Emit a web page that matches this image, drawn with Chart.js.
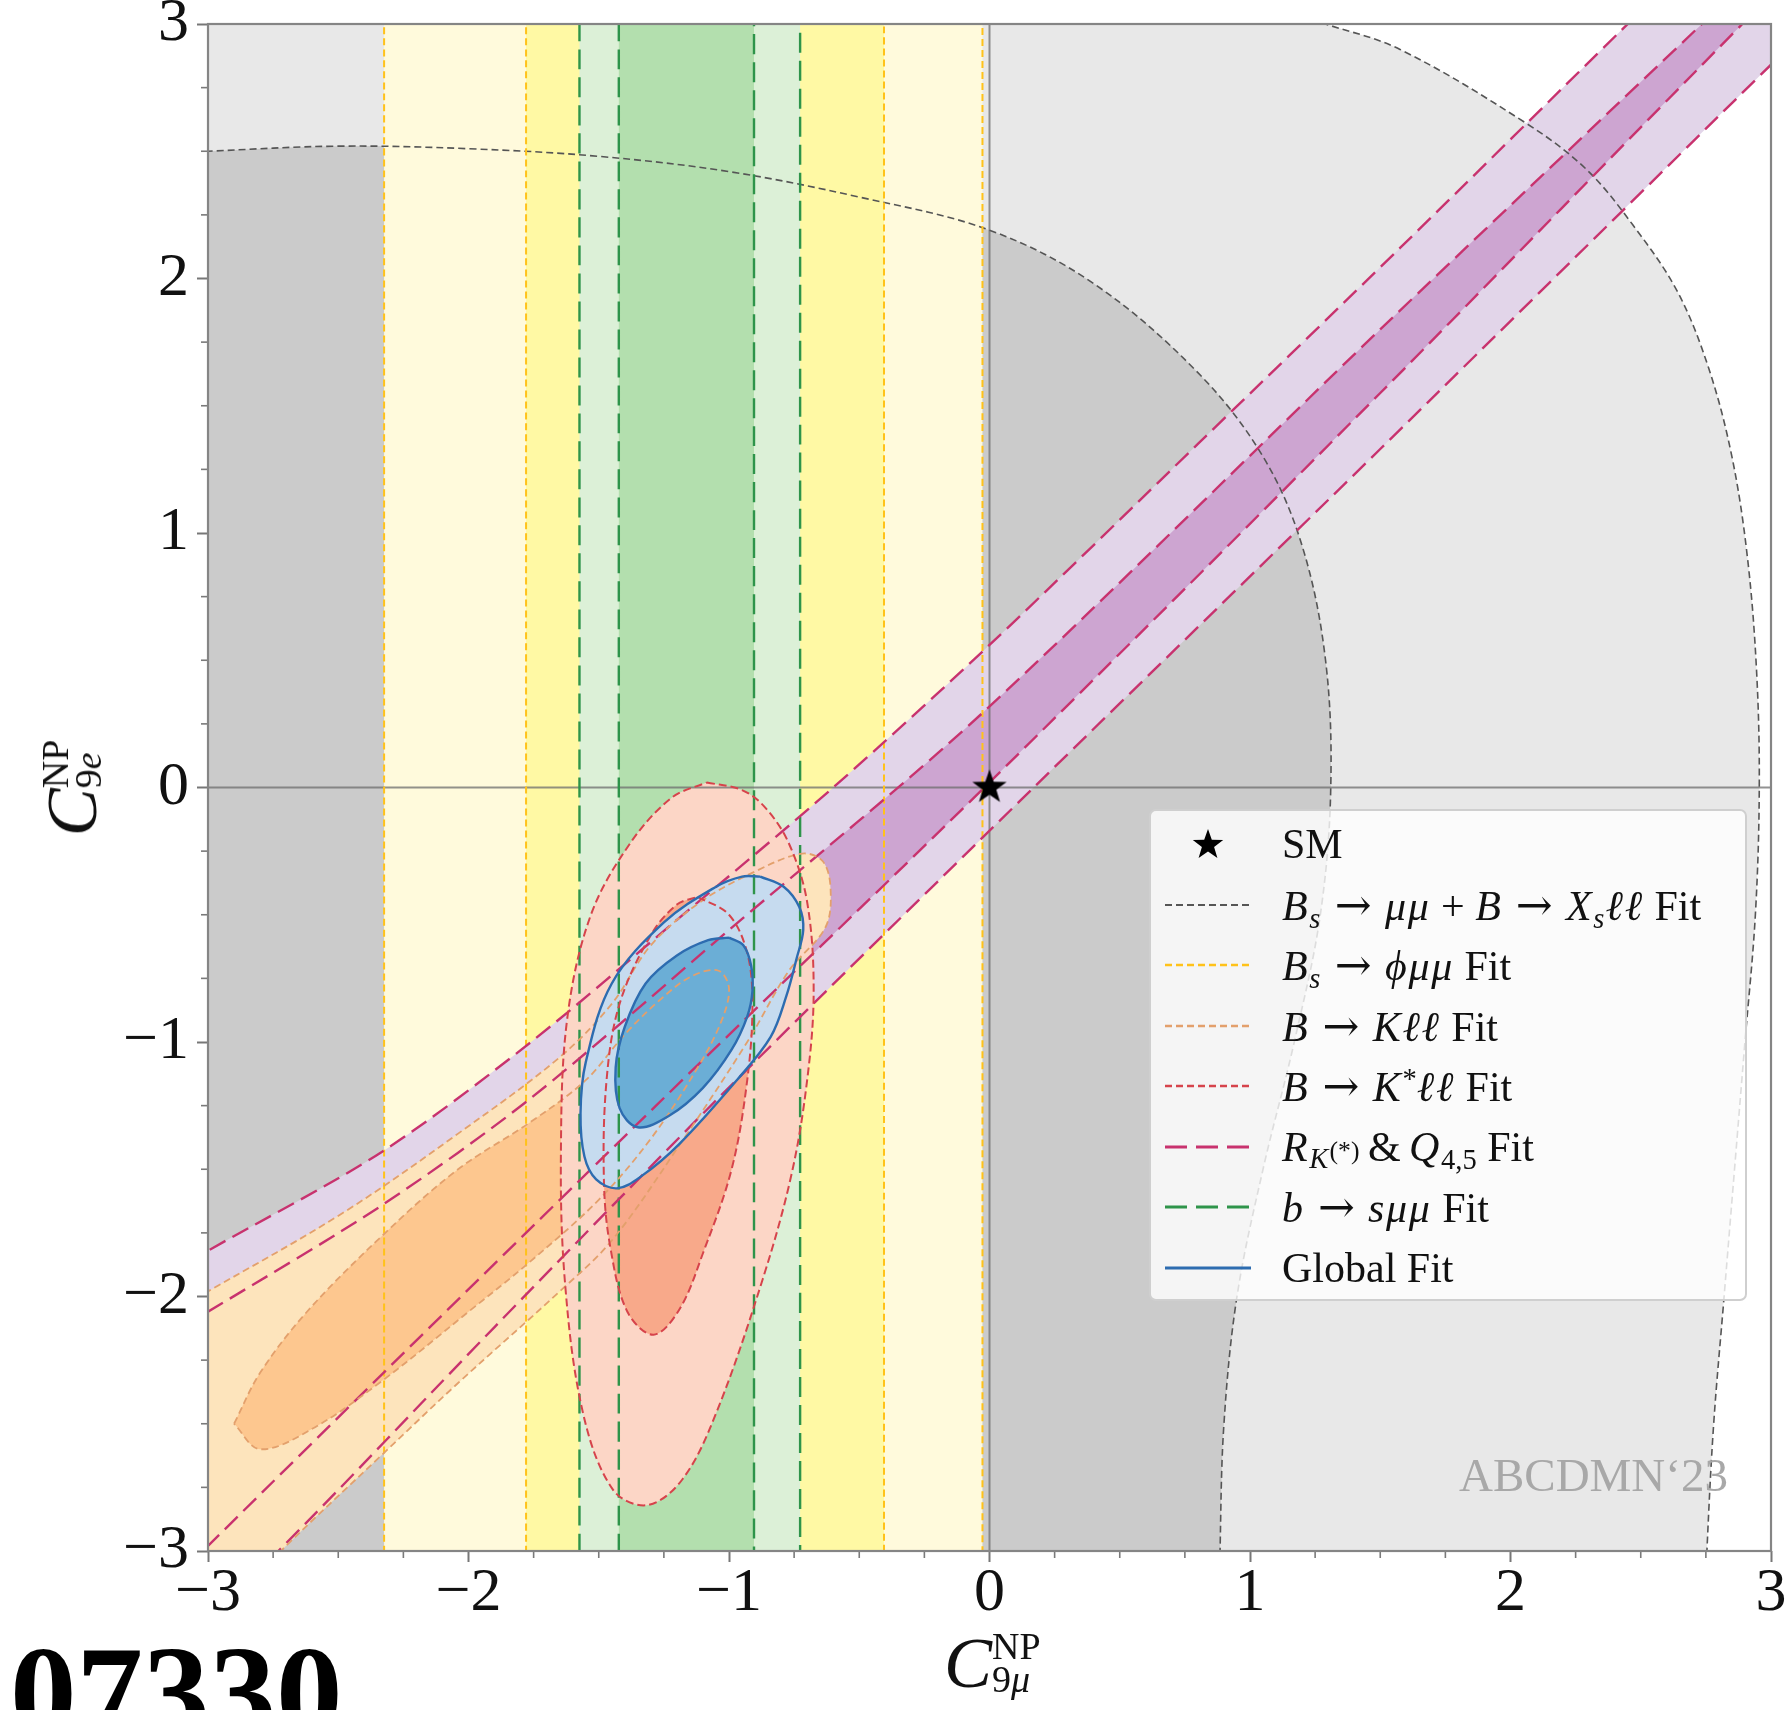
<!DOCTYPE html>
<html>
<head>
<meta charset="utf-8">
<script src="https://cdn.jsdelivr.net/npm/chart.js@4.4.1/dist/chart.umd.min.js"></script>
<style>
html,body{margin:0;padding:0;background:#fff;width:1792px;height:1710px;overflow:hidden;}
#wrap{position:relative;width:1792px;height:1710px;overflow:hidden;font-family:"Liberation Serif","DejaVu Serif",serif;}
#c{position:absolute;left:0;top:0;}
.ttl{position:absolute;display:flex;align-items:center;color:#111;white-space:nowrap;}
.ttl .cal{font-style:italic;font-size:72px;line-height:70px;}
.ttl .ss{display:flex;flex-direction:column;font-size:38px;line-height:33px;margin-left:0px;}
#legend{position:absolute;left:1149px;top:809px;width:598px;height:492px;border:2px solid #cfcfcf;border-radius:7px;background:rgba(255,255,255,0.8);box-sizing:border-box;}
.lrow{position:absolute;left:0;height:60px;display:flex;align-items:center;font-size:42px;color:#111;white-space:nowrap;}
.lrow svg{position:absolute;left:14px;top:25px;}
.lrow .txt{position:absolute;left:131px;top:0;height:60px;line-height:60px;}
.lrow i{letter-spacing:0.04em;}
.lrow sub{font-size:0.68em;vertical-align:-0.28em;line-height:0;}
.lrow sup{font-size:0.68em;vertical-align:0.45em;line-height:0;}
.lrow sub sup{font-size:0.9em;vertical-align:0.35em;}
.ar{font-family:"DejaVu Serif",serif;font-size:1.05em;margin:0 0.3em;}
.op{margin:0 0.25em;}
#wm{position:absolute;left:1459px;top:1448px;font-size:47px;color:#a8a8a8;white-space:nowrap;}
#arx{position:absolute;left:10px;top:1627px;font-size:133px;line-height:133px;font-weight:bold;color:#000;white-space:nowrap;}
</style>
</head>
<body>
<div id="wrap">
<canvas id="c" width="1792" height="1710"></canvas>

<div class="ttl" id="xtitle" style="left:944px;top:1628px;">
  <span class="cal">C</span><span class="ss"><span>NP</span><span>9<i>μ</i></span></span>
</div>
<div class="ttl" id="ytitle" style="left:72px;top:788px;transform:translate(-50%,-50%) rotate(-90deg);">
  <span class="cal">C</span><span class="ss"><span>NP</span><span>9<i>e</i></span></span>
</div>

<div id="legend"></div>
<div id="wm">ABCDMN‘23</div>
<div id="arx">07330</div>
</div>

<script>
// ---------------- data ----------------
const xTickValues = [-3, -2, -1, 0, 1, 2, 3];
const yTickValues = [-3, -2, -1, 0, 1, 2, 3];
const smPoint = [0, 0];

// Bs -> mu mu + B -> Xs ll fit (grey), 2 sigma and 1 sigma contours
const bsXs2Sigma = [[-3.6,3.6],[0.3,3.6],[0.9,3.13],[1.29,3.0],[1.576,2.9],[2.06,2.61],[2.29,2.43],[2.47,2.21],[2.64,1.95],[2.76,1.65],[2.85,1.3],[2.91,0.9],[2.945,0.45],[2.955,0.0],[2.94,-0.5],[2.9,-1.0],[2.86,-1.5],[2.82,-2.0],[2.78,-2.5],[2.754,-3.0],[2.74,-3.4],[2.6,-3.6],[-3.6,-3.6]];
const bsXs1Sigma = [[-3.6,2.47],[-3.0,2.5],[-2.5,2.52],[-2.0,2.51],[-1.5,2.48],[-1.0,2.42],[-0.5,2.32],[0.0,2.19],[0.4,1.98],[0.8,1.63],[1.05,1.3],[1.2,0.95],[1.29,0.5],[1.31,0.0],[1.27,-0.5],[1.17,-1.0],[1.05,-1.5],[0.95,-2.0],[0.9,-2.5],[0.885,-3.0],[0.88,-3.4],[0.7,-3.6],[-3.6,-3.6]];

// Bs -> phi mu mu fit (yellow): band edges in C9mu
const bsPhi2Sigma = [-2.324, -0.027];
const bsPhi1Sigma = [-1.779, -0.405];

// b -> s mu mu fit (green): band edges in C9mu
const bsmumu2Sigma = [-1.574, -0.727];
const bsmumu1Sigma = [-1.423, -0.904];

// R_K(*) & Q4,5 fit (purple): band edges
const rk2Upper = [[-3.6,-2.17],[-3.0,-1.82],[-2.33,-1.43],[-1.76,-1.0],[-1.2,-0.52],[-0.6,0.0],[0.0,0.56],[0.8,1.35],[1.576,2.12],[2.43,2.98],[3.1,3.65],[3.6,4.15]];
const rk2Lower = [[-3.25,-3.5],[-2.73,-3.0],[-1.9,-2.12],[-1.05,-1.23],[-0.03,-0.2],[1.5,1.33],[3.0,2.84],[3.6,3.44]];
const rk1Upper = [[-3.6,-2.43],[-3.0,-2.06],[-2.33,-1.64],[-1.76,-1.22],[-1.0,-0.56],[-0.03,0.29],[1.5,1.8],[2.735,3.0],[3.3,3.55],[3.6,3.85]];
const rk1Lower = [[-3.55,-3.55],[-3.0,-2.98],[-1.28,-1.25],[0.0,0.02],[1.5,1.55],[2.89,3.0],[3.6,3.72]];

// B -> K ll fit (orange)
const bkll2Sigma = [[-3.6,-2.33],[-3.0,-1.98],[-2.48,-1.67],[-2.04,-1.36],[-1.65,-1.06],[-1.45,-0.85],[-1.3,-0.62],[-1.11,-0.45],[-0.9,-0.33],[-0.72,-0.26],[-0.64,-0.29],[-0.61,-0.40],[-0.63,-0.55],[-0.77,-0.72],[-0.93,-1.0],[-1.2,-1.42],[-1.45,-1.78],[-1.65,-1.98],[-2.04,-2.34],[-2.33,-2.62],[-2.72,-3.0],[-3.0,-3.3],[-3.2,-3.6],[-3.6,-3.6]];
const bkll1Sigma = [[-2.90,-2.50],[-2.80,-2.30],[-2.62,-2.06],[-2.33,-1.76],[-2.04,-1.50],[-1.77,-1.32],[-1.55,-1.15],[-1.40,-0.97],[-1.26,-0.83],[-1.14,-0.74],[-1.04,-0.72],[-1.0,-0.79],[-1.03,-0.92],[-1.12,-1.1],[-1.3,-1.38],[-1.5,-1.62],[-1.76,-1.86],[-2.0,-2.06],[-2.33,-2.33],[-2.6,-2.52],[-2.8,-2.6],[-2.90,-2.50]];

// B -> K* ll fit (red)
const bkstll2Sigma = [[-1.085,0.02],[-0.95,-0.01],[-0.86,-0.08],[-0.77,-0.22],[-0.70,-0.45],[-0.675,-0.8],[-0.70,-1.15],[-0.76,-1.52],[-0.87,-1.93],[-1.05,-2.46],[-1.18,-2.72],[-1.315,-2.82],[-1.445,-2.76],[-1.56,-2.46],[-1.63,-1.94],[-1.645,-1.4],[-1.62,-0.9],[-1.53,-0.5],[-1.38,-0.22],[-1.22,-0.04],[-1.085,0.02]];
const bkstll1Sigma = [[-1.12,-0.43],[-1.0,-0.50],[-0.93,-0.65],[-0.91,-0.85],[-0.93,-1.15],[-0.99,-1.5],[-1.10,-1.83],[-1.19,-2.05],[-1.29,-2.15],[-1.39,-2.06],[-1.455,-1.81],[-1.48,-1.55],[-1.47,-1.15],[-1.42,-0.85],[-1.3,-0.58],[-1.2,-0.46],[-1.12,-0.43]];

// Global fit (blue)
const global2Sigma = [[-0.88,-0.35],[-0.79,-0.39],[-0.73,-0.47],[-0.715,-0.56],[-0.74,-0.67],[-0.78,-0.82],[-0.84,-0.98],[-0.97,-1.15],[-1.19,-1.40],[-1.34,-1.53],[-1.43,-1.575],[-1.51,-1.54],[-1.555,-1.45],[-1.57,-1.28],[-1.55,-1.08],[-1.45,-0.77],[-1.25,-0.53],[-1.05,-0.39],[-0.95,-0.35],[-0.88,-0.35]];
const global1Sigma = [[-1.0,-0.59],[-0.945,-0.62],[-0.915,-0.70],[-0.91,-0.80],[-0.93,-0.90],[-0.99,-1.03],[-1.10,-1.18],[-1.23,-1.29],[-1.35,-1.335],[-1.42,-1.26],[-1.435,-1.10],[-1.40,-0.94],[-1.32,-0.77],[-1.20,-0.66],[-1.08,-0.60],[-1.0,-0.59]];

// ---------------- styles ----------------
const C = {
  gray2:'#e8e8e8', gray1:'#cbcbcb', grayLine:'#555555',
  yel2:'#fffadc', yel1:'#fff9a4', yelLine:'#ffc21a',
  grn2:'#dcf0d7', grn1:'#b3dfae', grnLine:'#2e944a',
  pur2:'#e2d5e9', pur1:'#cda5d1', purLine:'#c8326e',
  org2:'#fde4bc', org1:'#fdc78f', orgLine:'#e3a06c',
  red2:'#fcd6c6', red1:'#f8a98a', redLine:'#d6434b',
  blu2:'#c6dbef', blu1:'#6baed6', bluLine:'#2d6cb0'
};
const shortDash = [7,4];
const redDash = [8,4];
const longDash = [18,8];

const toXY = arr => arr.map(([x,y]) => ({x, y}));
const band = ([x1,x2]) => [[x1,-4],[x1,4],[x2,4],[x2,-4],[x1,-4]];
const ring = (up, low) => up.concat(low.slice().reverse());

let ord = 100;
function contour(points, fillColor, lineColor, dash, width, tension){
  return {
    data: toXY(points), order: ord--,
    backgroundColor: fillColor, borderColor: lineColor, borderWidth: width,
    borderDash: dash, fill: 'shape', tension: tension, pointRadius: 0
  };
}

function makeStar(r){
  const s = Math.ceil(r*2+4);
  const cv = document.createElement('canvas'); cv.width = s; cv.height = s;
  const g = cv.getContext('2d');
  g.translate(s/2, s/2);
  g.beginPath();
  for (let i=0;i<10;i++){
    const rad = (i%2) ? r*0.40 : r;
    const a = -Math.PI/2 + i*Math.PI/5;
    g.lineTo(rad*Math.cos(a), rad*Math.sin(a));
  }
  g.closePath(); g.fillStyle = '#000'; g.fill();
  return cv;
}

const datasets = [
  contour(bsXs2Sigma, C.gray2, C.grayLine, shortDash, 1.6, 0.35),
  contour(bsXs1Sigma, C.gray1, C.grayLine, shortDash, 1.6, 0.35),
  contour(band(bsPhi2Sigma), C.yel2, C.yelLine, shortDash, 2, 0.00001),
  contour(band(bsPhi1Sigma), C.yel1, C.yelLine, shortDash, 2, 0.00001),
  contour(band(bsmumu2Sigma), C.grn2, C.grnLine, [20,8], 2.4, 0.00001),
  contour(band(bsmumu1Sigma), C.grn1, C.grnLine, [20,8], 2.4, 0.00001),
  contour(ring(rk2Upper, rk2Lower), C.pur2, C.purLine, longDash, 2.4, 0.3),
  contour(ring(rk1Upper, rk1Lower), C.pur1, C.purLine, longDash, 2.4, 0.3),
  contour(bkll2Sigma, C.org2, C.orgLine, shortDash, 1.8, 0.35),
  contour(bkll1Sigma, C.org1, C.orgLine, shortDash, 1.8, 0.35),
  contour(bkstll2Sigma, C.red2, C.redLine, redDash, 2, 0.35),
  contour(bkstll1Sigma, C.red1, C.redLine, redDash, 2, 0.35),
  contour(global2Sigma, C.blu2, C.bluLine, [], 2.4, 0.35),
  contour(global1Sigma, C.blu1, C.bluLine, [], 2.4, 0.35)
];
// zero lines (below all contour lines)
datasets.push({data: toXY([[-3,0],[3,0]]), order: 200, borderColor:'rgba(110,110,110,0.75)', borderWidth:2, fill:false, pointRadius:0, tension:0.00001});
datasets.push({data: toXY([[0,-3],[0,3]]), order: 201, borderColor:'rgba(110,110,110,0.75)', borderWidth:2, fill:false, pointRadius:0, tension:0.00001});
// SM point
datasets.push({data: toXY([smPoint]), order: 0, showLine:false, fill:false, pointStyle: makeStar(18), pointRadius: 18, borderWidth:0});

const fmt = v => (v < 0 ? '\u2212' + Math.abs(v) : String(v));

const frameAndMinor = {
  id: 'frameAndMinor',
  afterDatasetsDraw(chart){
    const {ctx, chartArea:a, scales} = chart;
    const xs = scales.x, ys = scales.y;
    ctx.save();
    ctx.strokeStyle = '#7a7a7a'; ctx.lineWidth = 1.6;
    for (let k = -12; k <= 12; k++){
      if (k % 4 === 0) continue;
      const v = k/4;
      const px = xs.getPixelForValue(v);
      ctx.beginPath(); ctx.moveTo(px, a.bottom); ctx.lineTo(px, a.bottom+7); ctx.stroke();
      const py = ys.getPixelForValue(v);
      ctx.beginPath(); ctx.moveTo(a.left, py); ctx.lineTo(a.left-7, py); ctx.stroke();
    }
    ctx.strokeStyle = '#858585'; ctx.lineWidth = 2.2;
    ctx.strokeRect(a.left, a.top, a.right-a.left, a.bottom-a.top);
    ctx.restore();
  }
};

Chart.defaults.font.family = "'Liberation Serif','DejaVu Serif',serif";

new Chart(document.getElementById('c'), {
  type: 'line',
  data: { datasets },
  options: {
    responsive: false, animation: false,
    layout: { padding: { left: 0, top: 24, right: 21, bottom: 0 } },
    elements: { line: { capBezierPoints: false }, point: { radius: 0, hitRadius: 0 } },
    plugins: { legend: { display: false }, tooltip: { enabled: false }, filler: { drawTime: 'beforeDatasetsDraw', propagate: false } },
    events: [],
    scales: {
      x: {
        type: 'linear', min: -3, max: 3,
        afterBuildTicks: s => { s.ticks = xTickValues.map(v => ({value: v})); },
        afterFit: s => { s.height = 159; s.paddingLeft = 0; s.paddingRight = 0; },
        ticks: { callback: v => fmt(v), font: { size: 62, lineHeight: 1 }, color: '#111', padding: 1, maxRotation: 0, autoSkip: false },
        grid: { drawOnChartArea: false, drawTicks: true, tickLength: 11, tickWidth: 2, tickColor: '#777' },
        border: { display: false }
      },
      y: {
        type: 'linear', min: -3, max: 3,
        afterBuildTicks: s => { s.ticks = yTickValues.map(v => ({value: v})); },
        afterFit: s => { s.width = 208; s.paddingTop = 0; s.paddingBottom = 0; },
        ticks: { callback: v => fmt(v), font: { size: 62, lineHeight: 1 }, color: '#111', padding: 8, autoSkip: false },
        grid: { drawOnChartArea: false, drawTicks: true, tickLength: 11, tickWidth: 2, tickColor: '#777' },
        border: { display: false }
      }
    }
  },
  plugins: [frameAndMinor]
});

// ---------------- legend (HTML) ----------------
const AR = '<span class="ar">→</span>';
const legendRows = [
  { kind:'star', html:'SM' },
  { color:C.grayLine, dash:'7 4', w:2, html:'<i>B</i><sub><i>s</i></sub>' + AR + '<i>μμ</i><span class="op">+</span><i>B</i>' + AR + '<i>X</i><sub><i>s</i></sub><i>ℓℓ</i> Fit' },
  { color:C.yelLine, dash:'7 4', w:2.4, html:'<i>B</i><sub><i>s</i></sub>' + AR + '<i>ϕμμ</i> Fit' },
  { color:C.orgLine, dash:'7 4', w:2.4, html:'<i>B</i>' + AR + '<i>Kℓℓ</i> Fit' },
  { color:C.redLine, dash:'7 4', w:2.4, html:'<i>B</i>' + AR + '<i>K</i><sup>*</sup><i>ℓℓ</i> Fit' },
  { color:C.purLine, dash:'22 9', w:3.2, html:'<i>R</i><sub><i>K</i><sup>(*)</sup></sub>&thinsp;&amp;&thinsp;<i>Q</i><sub>4,5</sub> Fit' },
  { color:C.grnLine, dash:'22 9', w:3.2, html:'<i>b</i>' + AR + '<i>sμμ</i> Fit' },
  { color:C.bluLine, dash:'', w:3, html:'Global Fit' }
];
const lg = document.getElementById('legend');
legendRows.forEach((r, i) => {
  const row = document.createElement('div');
  row.className = 'lrow';
  row.style.top = (3 + i*60.5) + 'px';
  row.style.width = '590px';
  let sample;
  if (r.kind === 'star') {
    sample = '<svg width="86" height="40" style="top:10px"><polygon fill="#000" points="' +
      Array.from({length:10}, (_, k) => { const rad = k%2 ? 6.4 : 16; const a = -Math.PI/2 + k*Math.PI/5; return (43+rad*Math.cos(a)).toFixed(1)+','+(21+rad*Math.sin(a)).toFixed(1); }).join(' ') + '"/></svg>';
  } else {
    sample = '<svg width="86" height="10"><line x1="0" y1="5" x2="86" y2="5" stroke="' + r.color + '" stroke-width="' + r.w + '"' + (r.dash ? ' stroke-dasharray="' + r.dash + '"' : '') + '/></svg>';
  }
  row.innerHTML = sample + '<span class="txt">' + r.html + '</span>';
  lg.appendChild(row);
});
</script>
</body>
</html>
